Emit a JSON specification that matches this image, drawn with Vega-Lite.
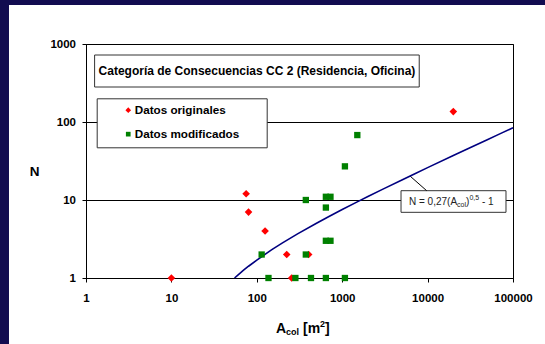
{
  "$schema": "https://vega.github.io/schema/vega-lite/v6.json",
  "width": 427,
  "height": 234,
  "autosize": "none",
  "padding": {"left": 86, "top": 44, "right": 32, "bottom": 66},
  "background": "white",
  "config": {
    "font": "Liberation Sans",
    "view": {"stroke": "black", "strokeWidth": 1, "fill": "white"},
    "axis": {
      "domainColor": "black",
      "tickColor": "black",
      "tickSize": 4,
      "labelColor": "black",
      "labelFontWeight": "bold",
      "labelFontSize": 11.5,
      "labelFont": "Liberation Sans",
      "titleFont": "Liberation Sans",
      "titleColor": "black"
    }
  },
  "datasets": {
    "points": [
      {"serie": "Datos originales", "A": 10, "N": 1},
      {"serie": "Datos originales", "A": 75, "N": 12},
      {"serie": "Datos originales", "A": 80, "N": 7},
      {"serie": "Datos originales", "A": 125, "N": 4},
      {"serie": "Datos originales", "A": 224, "N": 2},
      {"serie": "Datos originales", "A": 405, "N": 2},
      {"serie": "Datos originales", "A": 256, "N": 1},
      {"serie": "Datos originales", "A": 20000, "N": 136},
      {"serie": "Datos modificados", "A": 114, "N": 2},
      {"serie": "Datos modificados", "A": 137, "N": 1},
      {"serie": "Datos modificados", "A": 283, "N": 1},
      {"serie": "Datos modificados", "A": 375, "N": 10},
      {"serie": "Datos modificados", "A": 375, "N": 2},
      {"serie": "Datos modificados", "A": 431, "N": 1},
      {"serie": "Datos modificados", "A": 644, "N": 1},
      {"serie": "Datos modificados", "A": 644, "N": 11},
      {"serie": "Datos modificados", "A": 729, "N": 11},
      {"serie": "Datos modificados", "A": 644, "N": 8},
      {"serie": "Datos modificados", "A": 644, "N": 3},
      {"serie": "Datos modificados", "A": 729, "N": 3},
      {"serie": "Datos modificados", "A": 1076, "N": 1},
      {"serie": "Datos modificados", "A": 1076, "N": 27},
      {"serie": "Datos modificados", "A": 1503, "N": 68}
    ],
    "curve": [
      {"A": 54.87, "N": 1.0},
      {"A": 60, "N": 1.091},
      {"A": 70, "N": 1.259},
      {"A": 80, "N": 1.415},
      {"A": 100, "N": 1.7},
      {"A": 150, "N": 2.307},
      {"A": 200, "N": 2.818},
      {"A": 300, "N": 3.677},
      {"A": 500, "N": 5.037},
      {"A": 700, "N": 6.144},
      {"A": 1000, "N": 7.538},
      {"A": 1500, "N": 9.457},
      {"A": 2000, "N": 11.075},
      {"A": 3000, "N": 13.789},
      {"A": 5000, "N": 18.092},
      {"A": 7000, "N": 21.59},
      {"A": 10000, "N": 26},
      {"A": 20000, "N": 37.18},
      {"A": 30000, "N": 45.77},
      {"A": 50000, "N": 59.37},
      {"A": 70000, "N": 70.43},
      {"A": 100000, "N": 84.38}
    ],
    "bands": [
      {"A": 0.05, "A2": 0.1254, "N": 5000, "N2": 0.1},
      {"A": 0.05, "A2": 1000000, "N": 5000, "N2": 3162}
    ],
    "boxes": [
      {"box": "titulo", "A": 1.261, "A2": 7980, "N": 722.5, "N2": 281},
      {"box": "ecuacion", "A": 4885, "A2": 82800, "N": 13.16, "N2": 6.95}
    ],
    "leader": [
      {"A": 6220, "N": 20.3, "A2": 9750, "N2": 13.16}
    ],
    "titulo": [
      {"label": "Categoría de Consecuencias CC 2 (Residencia, Oficina)", "A": 100.4, "N": 450.7}
    ],
    "ecuacion": [{"A": 6057, "N": 8.55}],
    "xtitulo": [{"A": 167.8, "N": 0.1954}]
  },
  "encoding": {
    "x": {
      "field": "A",
      "type": "quantitative",
      "scale": {"type": "log", "domain": [1, 100000], "nice": false},
      "axis": {
        "values": [1, 10, 100, 1000, 10000, 100000],
        "format": "d",
        "title": null,
        "grid": false,
        "labelPadding": 10,
        "labelFlush": false,
        "labelOverlap": false
      }
    },
    "y": {
      "field": "N",
      "type": "quantitative",
      "scale": {"type": "log", "domain": [1, 1000], "nice": false},
      "axis": {
        "values": [1, 10, 100, 1000],
        "format": "d",
        "title": "N",
        "titleAngle": 0,
        "titleFontSize": 13.5,
        "titleFontWeight": "bold",
        "titleX": -52,
        "titleY": 127,
        "titleAlign": "center",
        "titleBaseline": "middle",
        "grid": true,
        "gridColor": "black",
        "gridOpacity": 1,
        "gridWidth": 1,
        "labelPadding": 6.5,
        "labelFlush": false,
        "labelOverlap": false
      }
    }
  },
  "layer": [
    {
      "data": {"name": "bands"},
      "mark": {"type": "rect", "fill": "#120c50", "clip": false},
      "encoding": {"x2": {"field": "A2"}, "y2": {"field": "N2"}}
    },
    {
      "data": {"name": "boxes"},
      "mark": {"type": "rect", "fill": "white", "stroke": "#333333", "strokeWidth": 1},
      "encoding": {"x2": {"field": "A2"}, "y2": {"field": "N2"}}
    },
    {
      "data": {"name": "leader"},
      "mark": {"type": "rule", "color": "black", "strokeWidth": 1},
      "encoding": {"x2": {"field": "A2"}, "y2": {"field": "N2"}}
    },
    {
      "data": {"name": "curve"},
      "mark": {"type": "line", "color": "#000080", "strokeWidth": 1.6},
      "encoding": {}
    },
    {
      "data": {"name": "points"},
      "mark": {"type": "point", "filled": true, "size": 40, "opacity": 1, "strokeWidth": 0},
      "encoding": {
        "color": {
          "field": "serie",
          "type": "nominal",
          "sort": null,
          "scale": {"domain": ["Datos originales", "Datos modificados"], "range": ["#ff0000", "#008000"]},
          "legend": {
            "orient": "none", "legendX": 10.7, "legendY": 54.3,
            "title": "x", "titleOrient": "right", "titleOpacity": 0, "titlePadding": 13.5, "titleFontSize": 11.7, "titleFontWeight": "bold",
            "fillColor": "white", "strokeColor": "#333333", "padding": 6, "rowPadding": 11,
            "symbolSize": 22, "symbolStrokeWidth": 0, "symbolOffset": 19.7, "labelOffset": 0.6,
            "labelFontSize": 11.7, "labelFontWeight": "bold", "labelColor": "black"
          }
        },
        "shape": {
          "field": "serie",
          "type": "nominal",
          "sort": null,
          "scale": {"domain": ["Datos originales", "Datos modificados"], "range": ["M0,-1.2L1.2,0L0,1.2L-1.2,0Z", "square"]},
          "legend": {
            "orient": "none", "legendX": 10.7, "legendY": 54.3,
            "title": "x", "titleOrient": "right", "titleOpacity": 0, "titlePadding": 13.5, "titleFontSize": 11.7, "titleFontWeight": "bold",
            "fillColor": "white", "strokeColor": "#333333", "padding": 6, "rowPadding": 11,
            "symbolSize": 22, "symbolStrokeWidth": 0, "symbolOffset": 19.7, "labelOffset": 0.6,
            "labelFontSize": 11.7, "labelFontWeight": "bold", "labelColor": "black"
          }
        }
      }
    },
    {
      "data": {"name": "titulo"},
      "mark": {"type": "text", "font": "Liberation Sans", "fontSize": 12, "fontWeight": "bold", "color": "black", "align": "center", "baseline": "middle"},
      "encoding": {"text": {"field": "label"}}
    },
    {
      "data": {"name": "ecuacion"},
      "mark": {"type": "text", "text": "N = 0,27(A", "font": "Liberation Sans", "fontSize": 10, "color": "#222222", "align": "left", "baseline": "alphabetic", "dx": 0}
    },
    {
      "data": {"name": "ecuacion"},
      "mark": {"type": "text", "text": "col", "font": "Liberation Sans", "fontSize": 7, "color": "#222222", "align": "left", "baseline": "alphabetic", "dx": 48.1, "dy": 2}
    },
    {
      "data": {"name": "ecuacion"},
      "mark": {"type": "text", "text": ")", "font": "Liberation Sans", "fontSize": 10, "color": "#222222", "align": "left", "baseline": "alphabetic", "dx": 57.05}
    },
    {
      "data": {"name": "ecuacion"},
      "mark": {"type": "text", "text": "0,5", "font": "Liberation Sans", "fontSize": 7, "color": "#222222", "align": "left", "baseline": "alphabetic", "dx": 60.4, "dy": -5}
    },
    {
      "data": {"name": "ecuacion"},
      "mark": {"type": "text", "text": "- 1", "font": "Liberation Sans", "fontSize": 10, "color": "#222222", "align": "left", "baseline": "alphabetic", "dx": 72.9}
    },
    {
      "data": {"name": "xtitulo"},
      "mark": {"type": "text", "text": "A", "font": "Liberation Sans", "fontSize": 14, "fontWeight": "bold", "color": "black", "align": "left", "baseline": "alphabetic", "dx": 0}
    },
    {
      "data": {"name": "xtitulo"},
      "mark": {"type": "text", "text": "col", "font": "Liberation Sans", "fontSize": 9, "fontWeight": "bold", "color": "black", "align": "left", "baseline": "alphabetic", "dx": 10.1, "dy": 2}
    },
    {
      "data": {"name": "xtitulo"},
      "mark": {"type": "text", "text": "[m", "font": "Liberation Sans", "fontSize": 14, "fontWeight": "bold", "color": "black", "align": "left", "baseline": "alphabetic", "dx": 27}
    },
    {
      "data": {"name": "xtitulo"},
      "mark": {"type": "text", "text": "2", "font": "Liberation Sans", "fontSize": 9, "fontWeight": "bold", "color": "black", "align": "left", "baseline": "alphabetic", "dx": 44.1, "dy": -6}
    },
    {
      "data": {"name": "xtitulo"},
      "mark": {"type": "text", "text": "]", "font": "Liberation Sans", "fontSize": 14, "fontWeight": "bold", "color": "black", "align": "left", "baseline": "alphabetic", "dx": 49.1}
    }
  ]
}
